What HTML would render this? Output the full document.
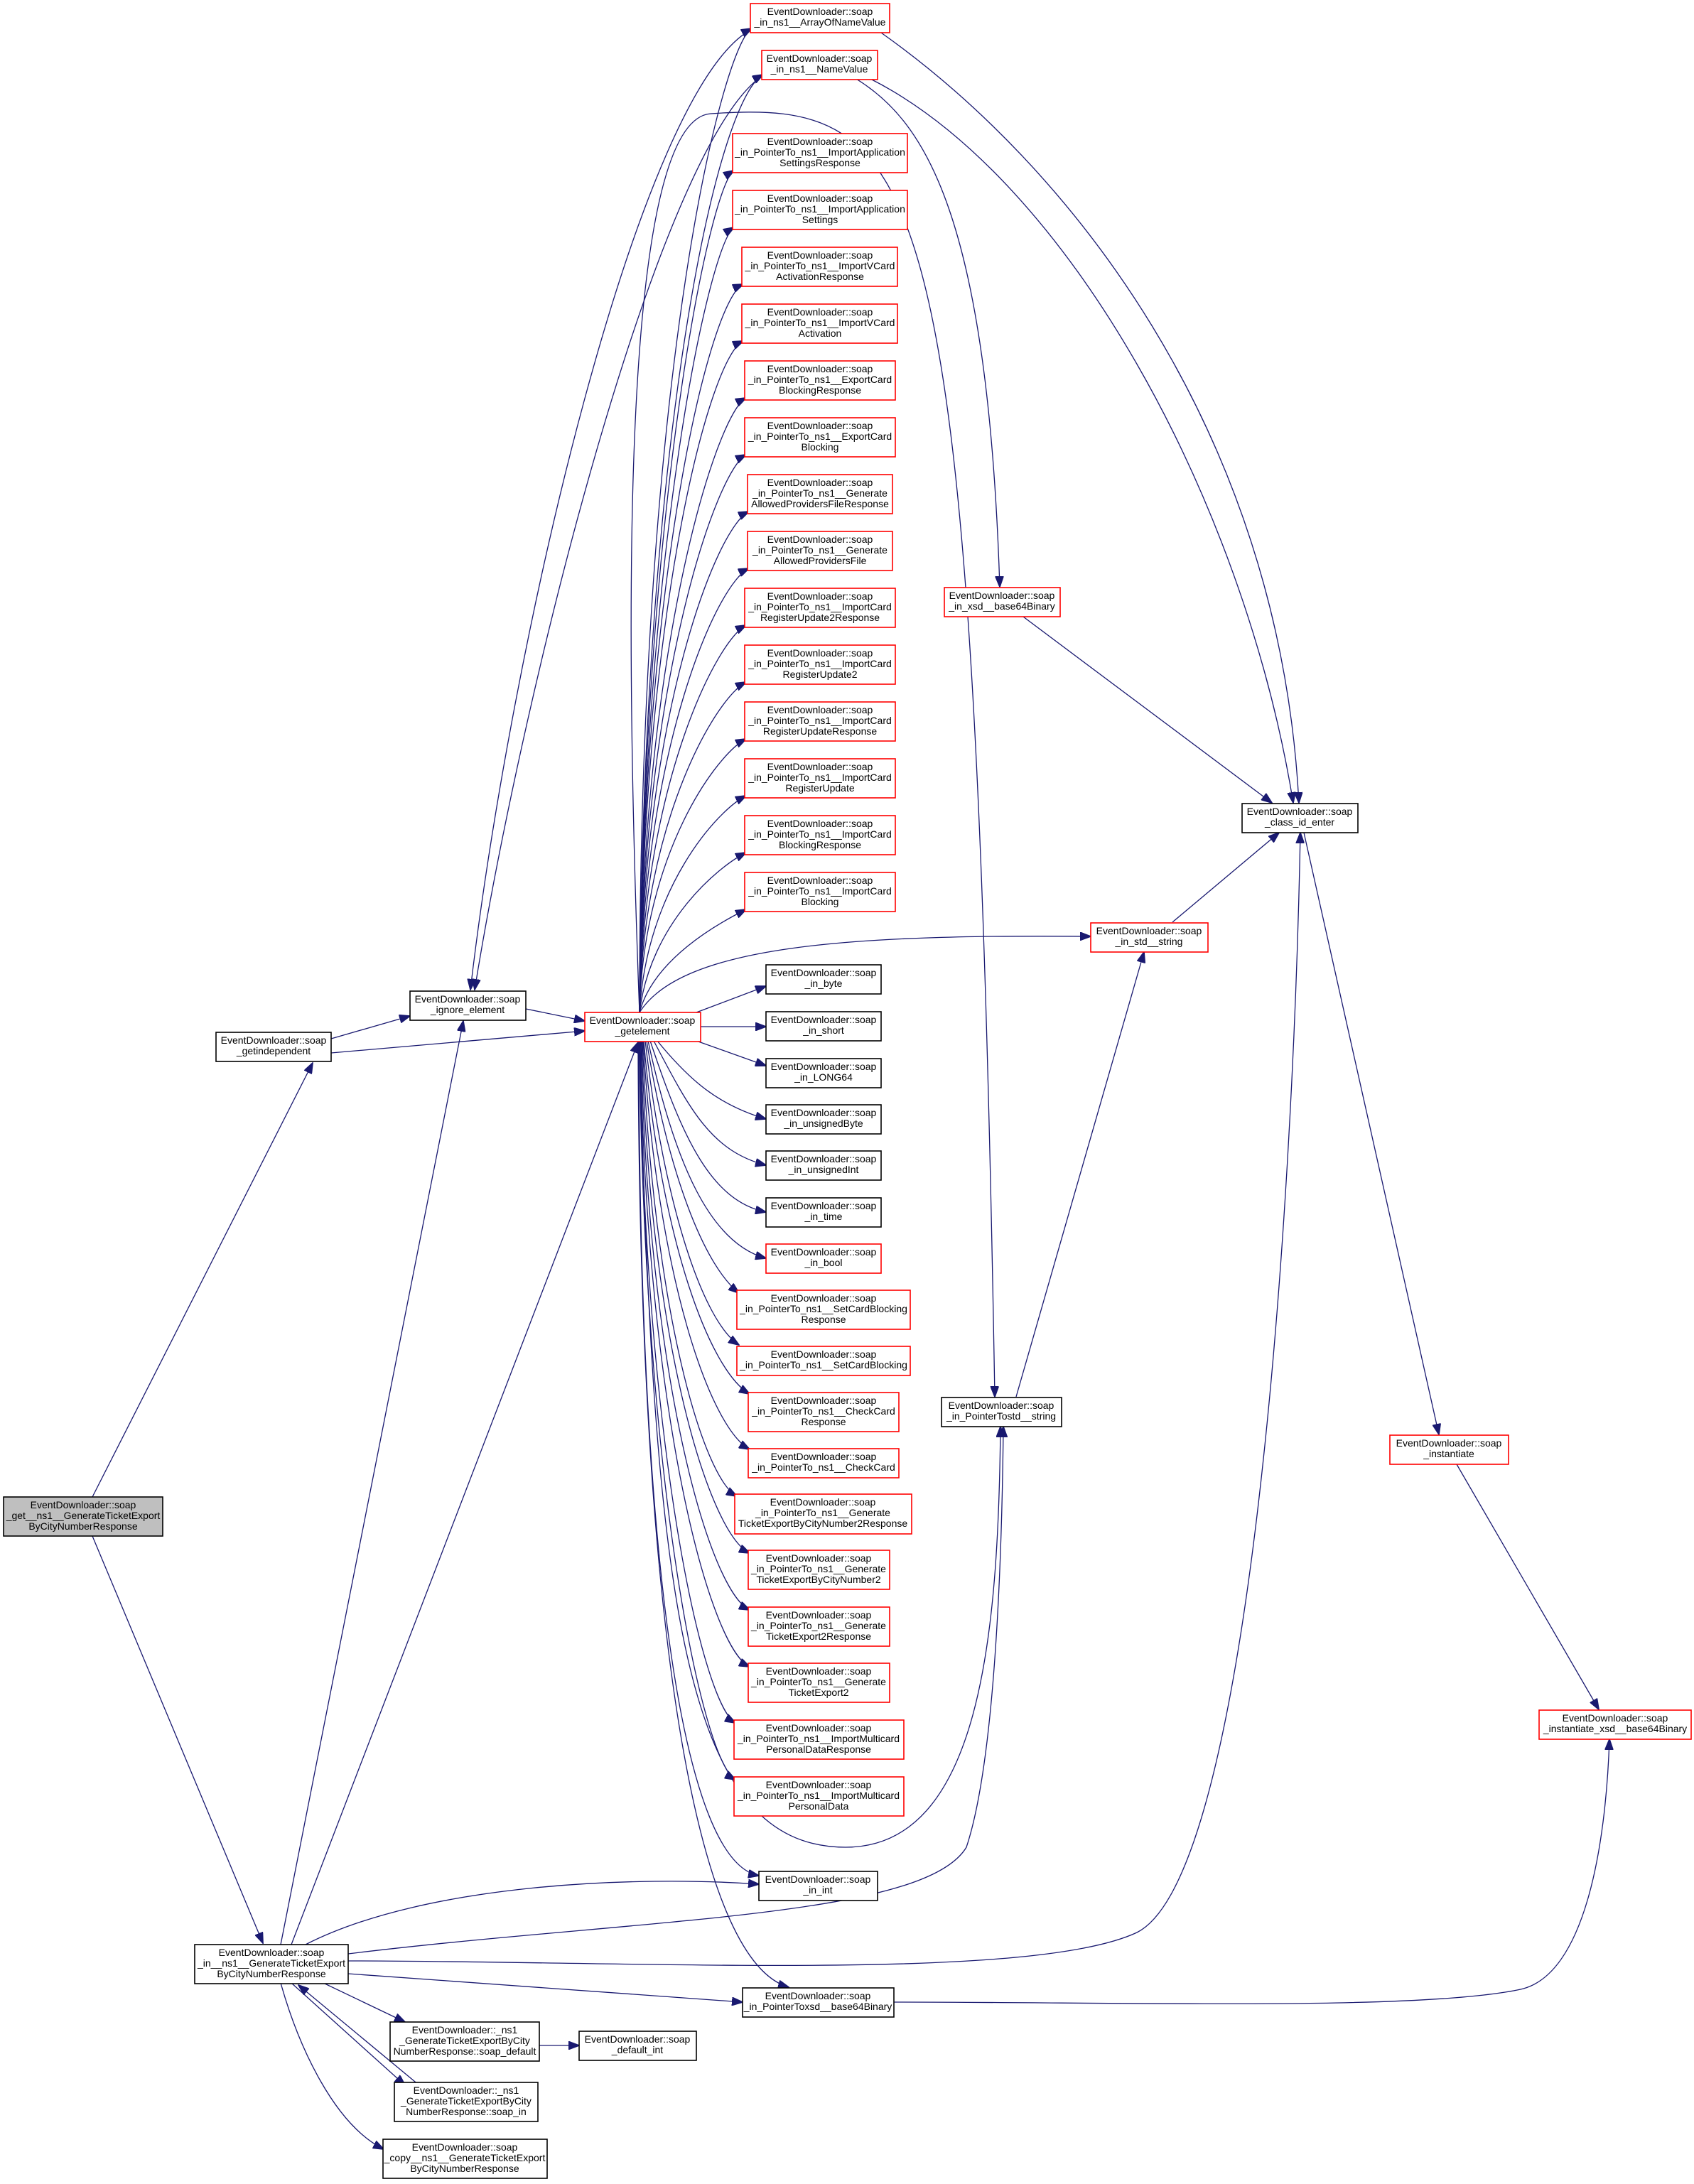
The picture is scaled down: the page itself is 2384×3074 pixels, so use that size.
<!DOCTYPE html>
<html><head><meta charset="utf-8"><style>
html,body{margin:0;padding:0;background:#fff}
svg{display:block}
text{font-family:"Liberation Sans",sans-serif;font-size:14px;fill:#000}
.r{fill:#fff;stroke:#f00;stroke-width:1.6}
.b{fill:#fff;stroke:#000;stroke-width:1.6}
.g{fill:#bfbfbf;stroke:#000;stroke-width:1.6}
.e{fill:none;stroke:#191970;stroke-width:1.3;marker-end:url(#a)}
</style></head><body>
<svg width="2384" height="3074" viewBox="0 0 2384 3074" xmlns="http://www.w3.org/2000/svg">
<defs><marker id="a" markerUnits="userSpaceOnUse" markerWidth="16" markerHeight="12" refX="15" refY="6" orient="auto"><path d="M0,0 L16,6 L0,12 z" fill="#191970" stroke="#191970"/></marker></defs>

<g>
<path class="e" d="M130,2107 L440,1496"/>
<path class="e" d="M130,2162 L370,2735"/>
<path class="e" d="M466,1462 L577,1430"/>
<path class="e" d="M466,1482 L823,1451"/>
<path class="e" d="M740,1420 L823,1437"/>
<path class="e" d="M1060,40 C900,120 720,900 662,1393"/>
<path class="e" d="M1075,105 C930,200 740,950 668,1393"/>
<path class="e" d="M395,2737 L652,1437"/>
<path class="e" d="M410,2737 L898,1467"/>
<path class="e" d="M900,1425 C900,500 1020,60 1058,40"/>
<path class="e" d="M900,1425 C905,600 1010,140 1074,105"/>
<path class="e" d="M900,1425 C905,700 1000,260 1033,240"/>
<path class="e" d="M900,1425 C905,760 1000,340 1033,320"/>
<path class="e" d="M900,1425 C905,800 1000,420 1046,400"/>
<path class="e" d="M900,1425 C905,850 1000,500 1046,480"/>
<path class="e" d="M900,1425 C905,900 1010,580 1050,560"/>
<path class="e" d="M900,1425 C905,950 1010,660 1050,640"/>
<path class="e" d="M900,1425 C905,1000 1010,740 1054,720"/>
<path class="e" d="M900,1425 C905,1050 1010,820 1054,800"/>
<path class="e" d="M900,1425 C905,1100 1010,900 1050,880"/>
<path class="e" d="M900,1425 C905,1150 1010,980 1050,960"/>
<path class="e" d="M900,1425 C905,1200 1010,1060 1050,1040"/>
<path class="e" d="M900,1425 C910,1250 1010,1140 1050,1120"/>
<path class="e" d="M900,1425 C915,1300 1010,1220 1050,1200"/>
<path class="e" d="M900,1425 C920,1350 1010,1300 1050,1280"/>
<path class="e" d="M900,1425 C960,1330 1200,1315 1535,1318"/>
<path class="e" d="M980,1425 L1078,1388"/>
<path class="e" d="M986,1445 L1078,1445"/>
<path class="e" d="M980,1465 L1078,1500"/>
<path class="e" d="M925,1465 C970,1520 1010,1555 1078,1575"/>
<path class="e" d="M920,1465 C970,1560 1000,1620 1078,1640"/>
<path class="e" d="M915,1465 C960,1600 1000,1690 1078,1706"/>
<path class="e" d="M912,1465 C950,1640 1000,1750 1078,1771"/>
<path class="e" d="M910,1465 C940,1650 990,1780 1040,1820"/>
<path class="e" d="M908,1465 C935,1700 990,1860 1040,1893"/>
<path class="e" d="M906,1465 C930,1750 1000,1930 1055,1962"/>
<path class="e" d="M905,1465 C925,1800 1000,2010 1055,2040"/>
<path class="e" d="M904,1465 C920,1850 990,2080 1037,2106"/>
<path class="e" d="M903,1465 C915,1900 1000,2160 1055,2186"/>
<path class="e" d="M902,1465 C912,1950 1000,2240 1055,2266"/>
<path class="e" d="M901,1465 C910,2000 1000,2320 1055,2346"/>
<path class="e" d="M900,1465 C908,2050 990,2400 1035,2425"/>
<path class="e" d="M900,1465 C906,2100 990,2480 1035,2505"/>
<path class="e" d="M899,1465 C900,2200 960,2620 1068,2640"/>
<path class="e" d="M898,1465 C900,2300 980,2760 1110,2797"/>
<path class="e" d="M900,1425 C880,900 870,170 1000,160 C1300,140 1370,220 1400,1966"/>
<path class="e" d="M900,1465 C920,2250 960,2600 1190,2600 C1380,2600 1405,2300 1408,2008"/>
<path class="e" d="M1205,111 C1300,170 1390,300 1407,826"/>
<path class="e" d="M1225,111 C1500,250 1750,700 1820,1130"/>
<path class="e" d="M1240,46 C1500,230 1800,600 1828,1130"/>
<path class="e" d="M1440,868 L1790,1130"/>
<path class="e" d="M1650,1298 L1800,1172"/>
<path class="e" d="M1430,1966 L1610,1340"/>
<path class="e" d="M1835,1172 L2025,2019"/>
<path class="e" d="M2050,2061 L2250,2406"/>
<path class="e" d="M1258,2818 C1600,2818 2000,2830 2140,2800 C2230,2780 2260,2600 2265,2448"/>
<path class="e" d="M430,2737 C600,2650 900,2640 1068,2652"/>
<path class="e" d="M490,2750 C900,2700 1300,2700 1360,2600 C1400,2480 1410,2200 1412,2008"/>
<path class="e" d="M490,2760 C900,2760 1450,2790 1600,2720 C1760,2640 1820,1700 1830,1172"/>
<path class="e" d="M490,2778 L1045,2818"/>
<path class="e" d="M455,2791 L570,2846"/>
<path class="e" d="M410,2791 L570,2935"/>
<path class="e" d="M590,2935 L420,2794"/>
<path class="e" d="M395,2791 C420,2880 470,2990 540,3025"/>
<path class="e" d="M759,2879 L815,2879"/>
</g>

<g>
<rect class="g" x="5" y="2107" width="224" height="55"/>
<text x="117" y="2123" text-anchor="middle">EventDownloader::soap</text>
<text x="117" y="2138" text-anchor="middle">_get__ns1__GenerateTicketExport</text>
<text x="117" y="2153" text-anchor="middle">ByCityNumberResponse</text>

<rect class="b" x="304" y="1453" width="162" height="41"/>
<text x="385" y="1469" text-anchor="middle">EventDownloader::soap</text>
<text x="385" y="1484" text-anchor="middle">_getindependent</text>

<rect class="b" x="577" y="1395" width="163" height="41"/>
<text x="658" y="1411" text-anchor="middle">EventDownloader::soap</text>
<text x="658" y="1426" text-anchor="middle">_ignore_element</text>

<rect class="r" x="823" y="1425" width="163" height="41"/>
<text x="904" y="1441" text-anchor="middle">EventDownloader::soap</text>
<text x="904" y="1456" text-anchor="middle">_getelement</text>

<rect class="r" x="1056" y="5" width="196" height="41"/>
<text x="1154" y="21" text-anchor="middle">EventDownloader::soap</text>
<text x="1154" y="36" text-anchor="middle">_in_ns1__ArrayOfNameValue</text>

<rect class="r" x="1072" y="71" width="163" height="41"/>
<text x="1153" y="87" text-anchor="middle">EventDownloader::soap</text>
<text x="1153" y="102" text-anchor="middle">_in_ns1__NameValue</text>

<rect class="r" x="1031" y="188" width="246" height="55"/>
<text x="1154" y="204" text-anchor="middle">EventDownloader::soap</text>
<text x="1154" y="219" text-anchor="middle">_in_PointerTo_ns1__ImportApplication</text>
<text x="1154" y="234" text-anchor="middle">SettingsResponse</text>

<rect class="r" x="1031" y="268" width="246" height="55"/>
<text x="1154" y="284" text-anchor="middle">EventDownloader::soap</text>
<text x="1154" y="299" text-anchor="middle">_in_PointerTo_ns1__ImportApplication</text>
<text x="1154" y="314" text-anchor="middle">Settings</text>

<rect class="r" x="1044" y="348" width="219" height="55"/>
<text x="1154" y="364" text-anchor="middle">EventDownloader::soap</text>
<text x="1154" y="379" text-anchor="middle">_in_PointerTo_ns1__ImportVCard</text>
<text x="1154" y="394" text-anchor="middle">ActivationResponse</text>

<rect class="r" x="1044" y="428" width="219" height="55"/>
<text x="1154" y="444" text-anchor="middle">EventDownloader::soap</text>
<text x="1154" y="459" text-anchor="middle">_in_PointerTo_ns1__ImportVCard</text>
<text x="1154" y="474" text-anchor="middle">Activation</text>

<rect class="r" x="1048" y="508" width="212" height="55"/>
<text x="1154" y="524" text-anchor="middle">EventDownloader::soap</text>
<text x="1154" y="539" text-anchor="middle">_in_PointerTo_ns1__ExportCard</text>
<text x="1154" y="554" text-anchor="middle">BlockingResponse</text>

<rect class="r" x="1048" y="588" width="212" height="55"/>
<text x="1154" y="604" text-anchor="middle">EventDownloader::soap</text>
<text x="1154" y="619" text-anchor="middle">_in_PointerTo_ns1__ExportCard</text>
<text x="1154" y="634" text-anchor="middle">Blocking</text>

<rect class="r" x="1052" y="668" width="204" height="55"/>
<text x="1154" y="684" text-anchor="middle">EventDownloader::soap</text>
<text x="1154" y="699" text-anchor="middle">_in_PointerTo_ns1__Generate</text>
<text x="1154" y="714" text-anchor="middle">AllowedProvidersFileResponse</text>

<rect class="r" x="1052" y="748" width="204" height="55"/>
<text x="1154" y="764" text-anchor="middle">EventDownloader::soap</text>
<text x="1154" y="779" text-anchor="middle">_in_PointerTo_ns1__Generate</text>
<text x="1154" y="794" text-anchor="middle">AllowedProvidersFile</text>

<rect class="r" x="1048" y="828" width="212" height="55"/>
<text x="1154" y="844" text-anchor="middle">EventDownloader::soap</text>
<text x="1154" y="859" text-anchor="middle">_in_PointerTo_ns1__ImportCard</text>
<text x="1154" y="874" text-anchor="middle">RegisterUpdate2Response</text>

<rect class="r" x="1048" y="908" width="212" height="55"/>
<text x="1154" y="924" text-anchor="middle">EventDownloader::soap</text>
<text x="1154" y="939" text-anchor="middle">_in_PointerTo_ns1__ImportCard</text>
<text x="1154" y="954" text-anchor="middle">RegisterUpdate2</text>

<rect class="r" x="1048" y="988" width="212" height="55"/>
<text x="1154" y="1004" text-anchor="middle">EventDownloader::soap</text>
<text x="1154" y="1019" text-anchor="middle">_in_PointerTo_ns1__ImportCard</text>
<text x="1154" y="1034" text-anchor="middle">RegisterUpdateResponse</text>

<rect class="r" x="1048" y="1068" width="212" height="55"/>
<text x="1154" y="1084" text-anchor="middle">EventDownloader::soap</text>
<text x="1154" y="1099" text-anchor="middle">_in_PointerTo_ns1__ImportCard</text>
<text x="1154" y="1114" text-anchor="middle">RegisterUpdate</text>

<rect class="r" x="1048" y="1148" width="212" height="55"/>
<text x="1154" y="1164" text-anchor="middle">EventDownloader::soap</text>
<text x="1154" y="1179" text-anchor="middle">_in_PointerTo_ns1__ImportCard</text>
<text x="1154" y="1194" text-anchor="middle">BlockingResponse</text>

<rect class="r" x="1048" y="1228" width="212" height="55"/>
<text x="1154" y="1244" text-anchor="middle">EventDownloader::soap</text>
<text x="1154" y="1259" text-anchor="middle">_in_PointerTo_ns1__ImportCard</text>
<text x="1154" y="1274" text-anchor="middle">Blocking</text>

<rect class="b" x="1078" y="1358" width="162" height="41"/>
<text x="1159" y="1374" text-anchor="middle">EventDownloader::soap</text>
<text x="1159" y="1389" text-anchor="middle">_in_byte</text>

<rect class="b" x="1078" y="1424" width="162" height="41"/>
<text x="1159" y="1440" text-anchor="middle">EventDownloader::soap</text>
<text x="1159" y="1455" text-anchor="middle">_in_short</text>

<rect class="b" x="1078" y="1490" width="162" height="41"/>
<text x="1159" y="1506" text-anchor="middle">EventDownloader::soap</text>
<text x="1159" y="1521" text-anchor="middle">_in_LONG64</text>

<rect class="b" x="1078" y="1555" width="162" height="41"/>
<text x="1159" y="1571" text-anchor="middle">EventDownloader::soap</text>
<text x="1159" y="1586" text-anchor="middle">_in_unsignedByte</text>

<rect class="b" x="1078" y="1620" width="162" height="41"/>
<text x="1159" y="1636" text-anchor="middle">EventDownloader::soap</text>
<text x="1159" y="1651" text-anchor="middle">_in_unsignedInt</text>

<rect class="b" x="1078" y="1686" width="162" height="41"/>
<text x="1159" y="1702" text-anchor="middle">EventDownloader::soap</text>
<text x="1159" y="1717" text-anchor="middle">_in_time</text>

<rect class="r" x="1078" y="1751" width="162" height="41"/>
<text x="1159" y="1767" text-anchor="middle">EventDownloader::soap</text>
<text x="1159" y="1782" text-anchor="middle">_in_bool</text>

<rect class="r" x="1037" y="1816" width="244" height="55"/>
<text x="1159" y="1832" text-anchor="middle">EventDownloader::soap</text>
<text x="1159" y="1847" text-anchor="middle">_in_PointerTo_ns1__SetCardBlocking</text>
<text x="1159" y="1862" text-anchor="middle">Response</text>

<rect class="r" x="1037" y="1895" width="244" height="41"/>
<text x="1159" y="1911" text-anchor="middle">EventDownloader::soap</text>
<text x="1159" y="1926" text-anchor="middle">_in_PointerTo_ns1__SetCardBlocking</text>

<rect class="r" x="1053" y="1960" width="212" height="55"/>
<text x="1159" y="1976" text-anchor="middle">EventDownloader::soap</text>
<text x="1159" y="1991" text-anchor="middle">_in_PointerTo_ns1__CheckCard</text>
<text x="1159" y="2006" text-anchor="middle">Response</text>

<rect class="r" x="1053" y="2039" width="212" height="41"/>
<text x="1159" y="2055" text-anchor="middle">EventDownloader::soap</text>
<text x="1159" y="2070" text-anchor="middle">_in_PointerTo_ns1__CheckCard</text>

<rect class="r" x="1034" y="2103" width="249" height="56"/>
<text x="1158" y="2119" text-anchor="middle">EventDownloader::soap</text>
<text x="1158" y="2134" text-anchor="middle">_in_PointerTo_ns1__Generate</text>
<text x="1158" y="2149" text-anchor="middle">TicketExportByCityNumber2Response</text>

<rect class="r" x="1053" y="2182" width="199" height="55"/>
<text x="1152" y="2198" text-anchor="middle">EventDownloader::soap</text>
<text x="1152" y="2213" text-anchor="middle">_in_PointerTo_ns1__Generate</text>
<text x="1152" y="2228" text-anchor="middle">TicketExportByCityNumber2</text>

<rect class="r" x="1053" y="2262" width="199" height="55"/>
<text x="1152" y="2278" text-anchor="middle">EventDownloader::soap</text>
<text x="1152" y="2293" text-anchor="middle">_in_PointerTo_ns1__Generate</text>
<text x="1152" y="2308" text-anchor="middle">TicketExport2Response</text>

<rect class="r" x="1053" y="2341" width="199" height="55"/>
<text x="1152" y="2357" text-anchor="middle">EventDownloader::soap</text>
<text x="1152" y="2372" text-anchor="middle">_in_PointerTo_ns1__Generate</text>
<text x="1152" y="2387" text-anchor="middle">TicketExport2</text>

<rect class="r" x="1033" y="2421" width="239" height="55"/>
<text x="1152" y="2437" text-anchor="middle">EventDownloader::soap</text>
<text x="1152" y="2452" text-anchor="middle">_in_PointerTo_ns1__ImportMulticard</text>
<text x="1152" y="2467" text-anchor="middle">PersonalDataResponse</text>

<rect class="r" x="1033" y="2501" width="239" height="55"/>
<text x="1152" y="2517" text-anchor="middle">EventDownloader::soap</text>
<text x="1152" y="2532" text-anchor="middle">_in_PointerTo_ns1__ImportMulticard</text>
<text x="1152" y="2547" text-anchor="middle">PersonalData</text>

<rect class="b" x="1068" y="2634" width="167" height="41"/>
<text x="1151" y="2650" text-anchor="middle">EventDownloader::soap</text>
<text x="1151" y="2665" text-anchor="middle">_in_int</text>

<rect class="b" x="1045" y="2798" width="213" height="41"/>
<text x="1151" y="2814" text-anchor="middle">EventDownloader::soap</text>
<text x="1151" y="2829" text-anchor="middle">_in_PointerToxsd__base64Binary</text>

<rect class="r" x="1329" y="827" width="163" height="41"/>
<text x="1410" y="843" text-anchor="middle">EventDownloader::soap</text>
<text x="1410" y="858" text-anchor="middle">_in_xsd__base64Binary</text>

<rect class="b" x="1748" y="1131" width="163" height="41"/>
<text x="1829" y="1147" text-anchor="middle">EventDownloader::soap</text>
<text x="1829" y="1162" text-anchor="middle">_class_id_enter</text>

<rect class="r" x="1535" y="1299" width="165" height="41"/>
<text x="1617" y="1315" text-anchor="middle">EventDownloader::soap</text>
<text x="1617" y="1330" text-anchor="middle">_in_std__string</text>

<rect class="b" x="1325" y="1967" width="169" height="41"/>
<text x="1409" y="1983" text-anchor="middle">EventDownloader::soap</text>
<text x="1409" y="1998" text-anchor="middle">_in_PointerTostd__string</text>

<rect class="r" x="1956" y="2020" width="167" height="41"/>
<text x="2039" y="2036" text-anchor="middle">EventDownloader::soap</text>
<text x="2039" y="2051" text-anchor="middle">_instantiate</text>

<rect class="r" x="2166" y="2407" width="214" height="41"/>
<text x="2273" y="2423" text-anchor="middle">EventDownloader::soap</text>
<text x="2273" y="2438" text-anchor="middle">_instantiate_xsd__base64Binary</text>

<rect class="b" x="274" y="2737" width="216" height="55"/>
<text x="382" y="2753" text-anchor="middle">EventDownloader::soap</text>
<text x="382" y="2768" text-anchor="middle">_in__ns1__GenerateTicketExport</text>
<text x="382" y="2783" text-anchor="middle">ByCityNumberResponse</text>

<rect class="b" x="549" y="2846" width="210" height="55"/>
<text x="654" y="2862" text-anchor="middle">EventDownloader::_ns1</text>
<text x="654" y="2877" text-anchor="middle">_GenerateTicketExportByCity</text>
<text x="654" y="2892" text-anchor="middle">NumberResponse::soap_default</text>

<rect class="b" x="815" y="2859" width="165" height="41"/>
<text x="897" y="2875" text-anchor="middle">EventDownloader::soap</text>
<text x="897" y="2890" text-anchor="middle">_default_int</text>

<rect class="b" x="555" y="2931" width="202" height="55"/>
<text x="656" y="2947" text-anchor="middle">EventDownloader::_ns1</text>
<text x="656" y="2962" text-anchor="middle">_GenerateTicketExportByCity</text>
<text x="656" y="2977" text-anchor="middle">NumberResponse::soap_in</text>

<rect class="b" x="539" y="3011" width="231" height="55"/>
<text x="654" y="3027" text-anchor="middle">EventDownloader::soap</text>
<text x="654" y="3042" text-anchor="middle">_copy__ns1__GenerateTicketExport</text>
<text x="654" y="3057" text-anchor="middle">ByCityNumberResponse</text>
</g>
</svg>
</body></html>
